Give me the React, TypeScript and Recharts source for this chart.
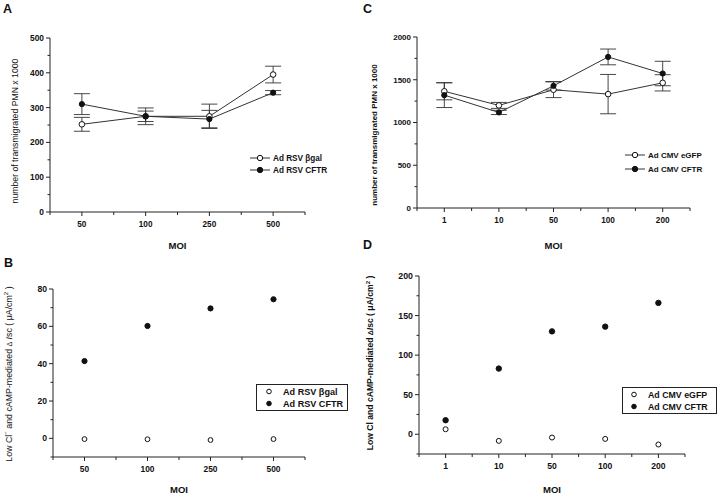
import React from "react";
import { LineChart, Line, XAxis, YAxis, ErrorBar, Legend, ScatterChart, Scatter } from "recharts";

const FONT = "'Liberation Sans', Arial, sans-serif";

// A: transmigrated PMN, Ad RSV vectors
const moiA = ["50", "100", "250", "500"];
const rsvGal = [252, 275, 275, 395];
const rsvGalErr = [20, 15, 35, 24];
const rsvCftr = [310, 275, 267, 343];
const rsvCftrErr = [30, 24, 25, 6];

// C: transmigrated PMN, Ad CMV vectors
const moiC = ["1", "10", "50", "100", "200"];
const cmvGfp = [1365, 1200, 1383, 1332, 1464];
const cmvGfpErr = [100, 35, 92, 230, 95];
const cmvCftr = [1320, 1118, 1429, 1767, 1573];
const cmvCftrErr = [145, 25, 50, 92, 143];

// B: delta Isc, Ad RSV vectors
const iscRsvGal = [-0.4, -0.5, -0.9, -0.4];
const iscRsvCftr = [41.4, 60.2, 69.6, 74.5];

// D: delta Isc, Ad CMV vectors
const iscCmvGfp = [6.3, -8.4, -4.2, -5.9, -13];
const iscCmvCftr = [17.7, 83, 130, 136, 166];

// y ticks: labelled ones and the small ones in between
const ticksA = [0, 100, 200, 300, 400, 500];
const minorA = [50, 150, 250, 350, 450];
const ticksB = [0, 20, 40, 60, 80];
const minorB = [-10, 10, 30, 50, 70];
const ticksC = [0, 500, 1000, 1500, 2000];
const minorC = [250, 750, 1250, 1750];
const ticksD = [0, 50, 100, 150, 200];
const minorD = [-25, 25, 75, 125, 175];

const dataA = moiA.map((m, i) => ({ i, moi: m, gal: rsvGal[i], galErr: rsvGalErr[i], cftr: rsvCftr[i], cftrErr: rsvCftrErr[i] }));
const dataC = moiC.map((m, i) => ({ i, moi: m, gfp: cmvGfp[i], gfpErr: cmvGfpErr[i], cftr: cmvCftr[i], cftrErr: cmvCftrErr[i] }));
const ptsB0 = moiA.map((m, i) => ({ i, v: iscRsvGal[i] }));
const ptsB1 = moiA.map((m, i) => ({ i, v: iscRsvCftr[i] }));
const ptsD0 = moiC.map((m, i) => ({ i, v: iscCmvGfp[i] }));
const ptsD1 = moiC.map((m, i) => ({ i, v: iscCmvCftr[i] }));

// major ticks on categories, minor ticks between them
const halfTicks = (n: number) => Array.from({ length: 2 * n + 1 }, (_, k) => k / 2 - 0.5);
const allTicks = (a: number[], b: number[]) => [...a, ...b].sort((p, q) => p - q);

const txt = (size: number) => ({ fontSize: size, fontWeight: "bold", fill: "#111", fontFamily: FONT });
const moiLabel = { fontSize: 9.5, fontWeight: "bold", fill: "#111", fontFamily: FONT };

function MoiTick(props: any) {
  const { x, y, payload, labels, size } = props;
  const v = payload.value;
  const major = Number.isInteger(v);
  return (
    <g>
      <line x1={x} x2={x} y1={y} y2={y + (major ? 4 : 3)} stroke="#222" strokeWidth={1} />
      {major && (
        <text x={x} y={y + 15} textAnchor="middle" {...txt(size)}>
          {labels[v]}
        </text>
      )}
    </g>
  );
}

function ValTick(props: any) {
  const { x, y, payload, major, size } = props;
  const v = payload.value;
  const isMajor = major.includes(v);
  return (
    <g>
      <line x1={x} x2={x - (isMajor ? 4 : 2.5)} y1={y} y2={y} stroke="#222" strokeWidth={1} />
      {isMajor && (
        <text x={x - 6} y={y + size * 0.36} textAnchor="end" {...txt(size)}>
          {v}
        </text>
      )}
    </g>
  );
}

function LineKey({ items, gap, size }: { items: { name: string; filled: boolean }[]; gap: number; size: number }) {
  return (
    <svg width={110} height={gap * 2} style={{ display: "block" }}>
      {items.map((it, k) => {
        const cy = gap / 2 + k * gap;
        return (
          <g key={it.name}>
            <line x1={0} x2={20} y1={cy} y2={cy} stroke="#333" />
            <circle cx={10} cy={cy} r={2.7} fill={it.filled ? "#111" : "#fff"} stroke="#111" />
            <text x={23} y={cy + size * 0.36} {...txt(size)}>{it.name}</text>
          </g>
        );
      })}
    </svg>
  );
}

function BoxKey({ items, w, h, size, mx, tx }: { items: { name: string; filled: boolean }[]; w: number; h: number; size: number; mx: number; tx: number }) {
  return (
    <svg width={w} height={h} style={{ display: "block" }}>
      <rect x={0.5} y={0.5} width={w - 1} height={h - 1} fill="#fff" stroke="#222" />
      {items.map((it, k) => {
        const cy = h / 2 - 6 + k * 12;
        return (
          <g key={it.name}>
            <circle cx={mx} cy={cy} r={2.3} fill={it.filled ? "#111" : "#fff"} stroke="#111" />
            <text x={tx} y={cy + size * 0.36} {...txt(size)}>{it.name}</text>
          </g>
        );
      })}
    </svg>
  );
}

const Abs = ({ left, top, children }: any) => (
  <div style={{ position: "absolute", left, top }}>{children}</div>
);

const RotLabel = ({ cx, cy, bold, size, children }: any) => (
  <div
    style={{
      position: "absolute",
      left: cx,
      top: cy,
      transform: "translate(-50%, -50%) rotate(-90deg)",
      whiteSpace: "nowrap",
      fontFamily: FONT,
      fontSize: size,
      fontWeight: bold ? "bold" : "normal",
      color: "#111",
      lineHeight: 1,
    }}
  >
    {children}
  </div>
);

const Letter = ({ left, top, children }: any) => (
  <div style={{ position: "absolute", left, top, fontFamily: FONT, fontWeight: "bold", fontSize: 12.5, lineHeight: 1, color: "#111" }}>
    {children}
  </div>
);

const openDot = { r: 2.8, fill: "#fff", stroke: "#111", strokeWidth: 1 };
const fullDot = { r: 2.6, fill: "#111", stroke: "#111", strokeWidth: 1 };

export default function App() {
  return (
    <div style={{ position: "absolute", left: 0, top: 0, width: 720, height: 494, background: "#fff", overflow: "hidden" }}>
      <Abs left={0} top={0}>
        <LineChart width={320} height={250} data={dataA} margin={{ top: 38, right: 15, bottom: 0, left: 0 }}>
          <XAxis type="number" dataKey="i" domain={[-0.5, 3.5]} ticks={halfTicks(4)} interval={0} tickSize={0} tickMargin={0} tickLine={false}
            tick={(p: any) => <MoiTick {...p} labels={moiA} size={8.2} />} height={38} stroke="#222"
            label={{ value: "MOI", position: "insideBottom", offset: 1, style: moiLabel }} />
          <YAxis type="number" domain={[0, 500]} ticks={allTicks(ticksA, minorA)} interval={0} width={50} tickSize={0} tickMargin={0} tickLine={false}
            stroke="#222" tick={(p: any) => <ValTick {...p} major={ticksA} size={8.4} />} />
          <Legend verticalAlign="middle" layout="horizontal" wrapperStyle={{ left: 250, top: 152, width: 110, height: 24 }}
            content={() => <LineKey gap={12} size={8.2} items={[{ name: "Ad RSV βgal", filled: false }, { name: "Ad RSV CFTR", filled: true }]} />} />
          <Line dataKey="gal" name="Ad RSV βgal" stroke="#333" strokeWidth={1} dot={openDot} isAnimationActive={false}>
            <ErrorBar dataKey="galErr" width={8} stroke="#333" strokeWidth={0.9} />
          </Line>
          <Line dataKey="cftr" name="Ad RSV CFTR" stroke="#333" strokeWidth={1} dot={fullDot} isAnimationActive={false}>
            <ErrorBar dataKey="cftrErr" width={8} stroke="#333" strokeWidth={0.9} />
          </Line>
        </LineChart>
      </Abs>

      <Abs left={360} top={0}>
        <LineChart width={360} height={250} data={dataC} margin={{ top: 37, right: 30, bottom: 0, left: 0 }}>
          <XAxis type="number" dataKey="i" domain={[-0.5, 4.5]} ticks={halfTicks(5)} interval={0} tickSize={0} tickMargin={0} tickLine={false}
            tick={(p: any) => <MoiTick {...p} labels={moiC} size={8.2} />} height={42} stroke="#222"
            label={{ value: "MOI", position: "insideBottom", offset: 1, style: moiLabel }} />
          <YAxis type="number" domain={[0, 2000]} ticks={allTicks(ticksC, minorC)} interval={0} width={57} tickSize={0} tickMargin={0} tickLine={false}
            stroke="#222" tick={(p: any) => <ValTick {...p} major={ticksC} size={8} />} />
          <Legend verticalAlign="middle" layout="horizontal" wrapperStyle={{ left: 265, top: 148, width: 110, height: 28 }}
            content={() => <LineKey gap={14} size={8} items={[{ name: "Ad CMV eGFP", filled: false }, { name: "Ad CMV CFTR", filled: true }]} />} />
          <Line dataKey="gfp" name="Ad CMV eGFP" stroke="#333" strokeWidth={1} dot={openDot} isAnimationActive={false}>
            <ErrorBar dataKey="gfpErr" width={8} stroke="#333" strokeWidth={0.9} />
          </Line>
          <Line dataKey="cftr" name="Ad CMV CFTR" stroke="#333" strokeWidth={1} dot={fullDot} isAnimationActive={false}>
            <ErrorBar dataKey="cftrErr" width={8} stroke="#333" strokeWidth={0.9} />
          </Line>
        </LineChart>
      </Abs>

      <Abs left={0} top={250}>
        <ScatterChart width={320} height={244} margin={{ top: 39, right: 15, bottom: 0, left: 0 }}>
          <XAxis type="number" dataKey="i" domain={[-0.5, 3.5]} ticks={halfTicks(4)} interval={0} tickSize={0} tickMargin={0} tickLine={false}
            tick={(p: any) => <MoiTick {...p} labels={moiA} size={8.4} />} height={37} stroke="#222"
            label={{ value: "MOI", position: "insideBottom", offset: 1, style: moiLabel }} />
          <YAxis type="number" dataKey="v" domain={[-10, 80]} ticks={allTicks(ticksB, minorB)} interval={0} width={53} tickSize={0} tickMargin={0} tickLine={false}
            stroke="#222" tick={(p: any) => <ValTick {...p} major={ticksB} size={8.6} />} />
          <Legend verticalAlign="middle" layout="horizontal" wrapperStyle={{ left: 256, top: 134, width: 92, height: 27 }}
            content={() => <BoxKey w={92} h={27} size={9.1} mx={13} tx={27} items={[{ name: "Ad RSV βgal", filled: false }, { name: "Ad RSV CFTR", filled: true }]} />} />
          <Scatter data={ptsB0} name="Ad RSV βgal" isAnimationActive={false}
            shape={(p: any) => <circle cx={p.cx} cy={p.cy} r={2.4} fill="#fff" stroke="#111" />} />
          <Scatter data={ptsB1} name="Ad RSV CFTR" isAnimationActive={false}
            shape={(p: any) => <circle cx={p.cx} cy={p.cy} r={2.6} fill="#111" stroke="#111" />} />
        </ScatterChart>
      </Abs>

      <Abs left={360} top={250}>
        <ScatterChart width={360} height={244} margin={{ top: 26, right: 35, bottom: 0, left: 0 }}>
          <XAxis type="number" dataKey="i" domain={[-0.5, 4.5]} ticks={halfTicks(5)} interval={0} tickSize={0} tickMargin={0} tickLine={false}
            tick={(p: any) => <MoiTick {...p} labels={moiC} size={8.6} />} height={40} stroke="#222"
            label={{ value: "MOI", position: "insideBottom", offset: 1, style: moiLabel }} />
          <YAxis type="number" dataKey="v" domain={[-25, 200]} ticks={allTicks(ticksD, minorD)} interval={0} width={59} tickSize={0} tickMargin={0} tickLine={false}
            stroke="#222" tick={(p: any) => <ValTick {...p} major={ticksD} size={8.8} />} />
          <Legend verticalAlign="middle" layout="horizontal" wrapperStyle={{ left: 262, top: 137, width: 95, height: 27 }}
            content={() => <BoxKey w={95} h={27} size={8.8} mx={12} tx={26} items={[{ name: "Ad CMV eGFP", filled: false }, { name: "Ad CMV CFTR", filled: true }]} />} />
          <Scatter data={ptsD0} name="Ad CMV eGFP" isAnimationActive={false}
            shape={(p: any) => <circle cx={p.cx} cy={p.cy} r={2.5} fill="#fff" stroke="#111" />} />
          <Scatter data={ptsD1} name="Ad CMV CFTR" isAnimationActive={false}
            shape={(p: any) => <circle cx={p.cx} cy={p.cy} r={2.7} fill="#111" stroke="#111" />} />
        </ScatterChart>
      </Abs>

      <Letter left={3} top={3}>A</Letter>
      <Letter left={363} top={3}>C</Letter>
      <Letter left={4} top={257}>B</Letter>
      <Letter left={363} top={239}>D</Letter>

      <RotLabel cx={15} cy={131} size={8.7}>number of transmigrated PMN x 1000</RotLabel>
      <RotLabel cx={375} cy={135} size={8} bold>number of transmigrated PMN x 1000</RotLabel>
      <RotLabel cx={8} cy={374} size={8.8}>
        Low Cl<sup style={{ fontSize: "0.7em" }}>−</sup> and cAMP-mediated <span style={{ fontSize: "0.8em" }}>Δ</span> <i>I</i>sc ( μA/cm<sup style={{ fontSize: "0.7em" }}>2</sup> )
      </RotLabel>
      <RotLabel cx={370} cy={363} size={8.6} bold>
        Low Cl and cAMP-mediated <span style={{ fontSize: "0.8em" }}>Δ</span><i>I</i>sc ( μA/cm<sup style={{ fontSize: "0.7em" }}>2</sup> )
      </RotLabel>
    </div>
  );
}
